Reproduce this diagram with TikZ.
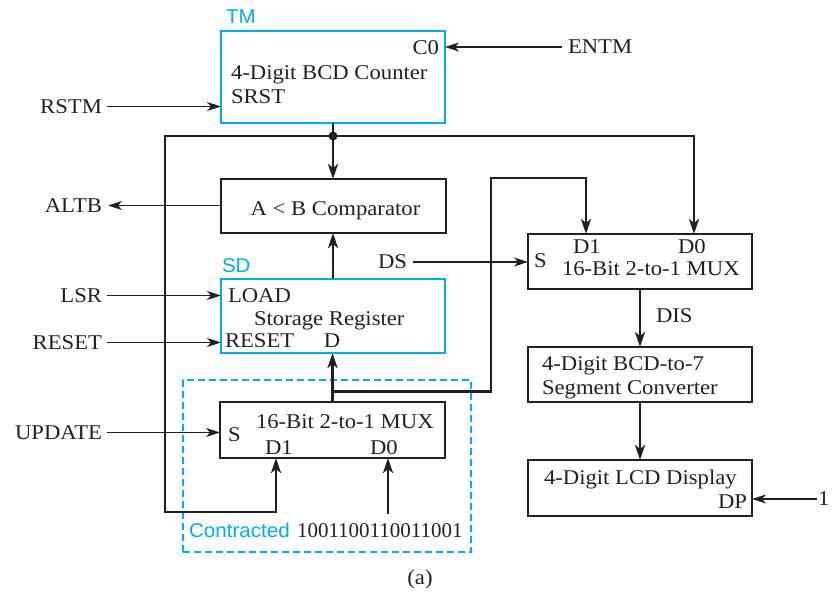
\documentclass[tikz,border=0pt]{standalone}
\usepackage{fontspec}
\setmainfont{Liberation Serif}[FakeStretch=1.08]
\newfontfamily\plainserif{Liberation Serif}
\newfontfamily\lblfont{Liberation Sans}[FakeStretch=1.03]
\usetikzlibrary{arrows.meta}
\definecolor{cy}{HTML}{00AEEF}
\definecolor{ink}{HTML}{231F20}
\begin{document}
\begin{tikzpicture}[x=1pt,y=-1pt,
  every node/.style={inner sep=0pt, outer sep=0pt, text=ink, font=\fontsize{21}{25}\selectfont},
  blk/.style={draw=ink, line width=2.8pt, rectangle},
  cblk/.style={draw=cy, line width=2.8pt, rectangle},
  thinar/.style={draw=ink, line width=1.4pt, -{Stealth[length=14pt,width=9pt,inset=4pt]}},
  busln/.style={draw=ink, line width=2.8pt},
  busar/.style={busln, -{Stealth[length=15pt,width=10pt,inset=4pt]}},
  cyl/.style={text=cy, font=\lblfont\fontsize{20}{24}\selectfont},
  dashbox/.style={draw=cy, line width=1.3pt, dash pattern=on 7pt off 4pt, rectangle},
]
\useasboundingbox (0,0) rectangle (832,593);

% ---------- TM counter ----------
\node[cblk, minimum width=224pt, minimum height=92pt] (tm) at (333,77) {};
\node[cyl, anchor=base west] (tmlbl) at (226,24) {TM};
\node[anchor=base east] (c0) at (439,55) {C0};
\node[anchor=base west] (tm1) at (231,80) {4-Digit BCD Counter};
\node[anchor=base west] (tm2) at (231,104) {SRST};
\node[anchor=west] (entm) at (568,47) {ENTM};
\node[anchor=east] (rstm) at (102,106.5) {RSTM};
\draw[thinar] ([xshift=-6pt]entm.west) -- (entm.west -| tm.east);
\draw[thinar] ([xshift=5pt]rstm.east) -- (rstm.east -| tm.west);

% ---------- Comparator ----------
\node[blk, minimum width=225pt, minimum height=54pt] (cmp) at (333.5,206) {};
\node[anchor=base] (cmpt) at (335.5,216) {A < B Comparator};
\node[anchor=east] (altb) at (102,205.5) {ALTB};
\draw[thinar] (cmp.west |- altb.east) -- ([xshift=6pt]altb.east);

% ---------- Storage register ----------
\node[cblk, minimum width=224pt, minimum height=74pt] (sd) at (333,316) {};
\node[cyl, anchor=base west] (sdlbl) at (222,273) {SD};
\node[anchor=base west] (load) at (228,303) {LOAD};
\node[anchor=base west] (storage) at (254,326) {Storage Register};
\node[anchor=base west] (rst) at (225,348) {RESET};
\node[anchor=base] (dlbl) at (332,348) {D};
\node[anchor=east] (lsr) at (102,295.5) {LSR};
\node[anchor=east] (resetin) at (102,342.5) {RESET};
\draw[thinar] ([xshift=5pt]lsr.east) -- (lsr.east -| sd.west);
\draw[thinar] ([xshift=5pt]resetin.east) -- (resetin.east -| sd.west);
\draw[busar] (sd.north) -- (sd.north |- cmp.south);

% ---------- Contracted MUX ----------
\node[dashbox, minimum width=288pt, minimum height=172pt] (contr) at (327,466) {};
\node[blk, minimum width=225pt, minimum height=56pt] (mux1) at (332.5,430) {};
\node[anchor=base west] (m1t) at (256,428) {16-Bit 2-to-1 MUX};
\node[anchor=base west] (m1s) at (228,441) {S};
\node[anchor=base west] (m1d1l) at (265,454) {D1};
\node[anchor=base west] (m1d0l) at (370,454) {D0};
\node[cyl, anchor=base west] (contrl) at (189,537) {Contracted};
\node[anchor=base west, font=\plainserif\fontsize{21}{25}\selectfont] (bits) at (297,537) {1001100110011001};
\node[anchor=east] (upd) at (102,432.5) {UPDATE};
\draw[thinar] ([xshift=5pt]upd.east) -- (upd.east -| mux1.west);
\draw[busar] (mux1.north) -- (mux1.north |- sd.south);
\coordinate (m1d1) at ([xshift=-56.5pt]mux1.south);
\coordinate (m1d0) at ([xshift=55.5pt]mux1.south);
\coordinate (bitsrc) at (388,514);
\draw[busar] (bitsrc) -- (m1d0);

% ---------- Right MUX ----------
\node[blk, minimum width=224pt, minimum height=55pt] (mux2) at (640,261.5) {};
\node[anchor=base west] (m2d1l) at (573,254) {D1};
\node[anchor=base west] (m2d0l) at (678,254) {D0};
\node[anchor=base west] (m2s) at (534,268) {S};
\node[anchor=base west] (m2t) at (562,276) {16-Bit 2-to-1 MUX};
\node[anchor=east] (ds) at (407,262) {DS};
\coordinate (m2d1) at ([xshift=-54pt]mux2.north);
\coordinate (m2d0) at ([xshift=54pt]mux2.north);

% ---------- buses ----------
\coordinate (j) at (tm.south |- 0,136);
\coordinate (lc1) at (165,136);
\coordinate (lc2) at (165,512);
\draw[busar] (tm.south) -- (tm.south |- cmp.north);
\draw[busar] (j) -| (m2d0);
\draw[busar] (j) -- (lc1) -- (lc2) -| (m1d1);
\fill[ink] (j) circle (4.5pt);
\coordinate (br) at (mux1.north |- 0,391.5);
\coordinate (brc) at (491,391.5);
\coordinate (brt) at (491,178);
\draw[busar] (br) -- (brc) -- (brt) -| (m2d1);
\draw[thinar] ([xshift=6pt]ds.east) -- (ds.east -| mux2.west);

% ---------- Converter and display ----------
\node[blk, minimum width=224pt, minimum height=55pt] (conv) at (640,374.5) {};
\node[anchor=base west] (conv1) at (542,370) {4-Digit BCD-to-7};
\node[anchor=base west] (conv2) at (542,394) {Segment Converter};
\node[anchor=base west] (dis) at (656,323) {DIS};
\draw[busar] (mux2.south) -- (conv.north);
\node[blk, minimum width=224pt, minimum height=56pt] (lcd) at (640,488) {};
\node[anchor=base west] (lcd1) at (544,484) {4-Digit LCD Display};
\node[anchor=base east] (dp) at (747,508) {DP};
\draw[busar] (conv.south) -- (lcd.north);
\node[anchor=west] (one) at (818,499) {1};
\draw[thinar] ([xshift=-1pt]one.west) -- (one.west -| lcd.east);

\node[anchor=base] (cap) at (420,584) {(a)};
\end{tikzpicture}
\end{document}
